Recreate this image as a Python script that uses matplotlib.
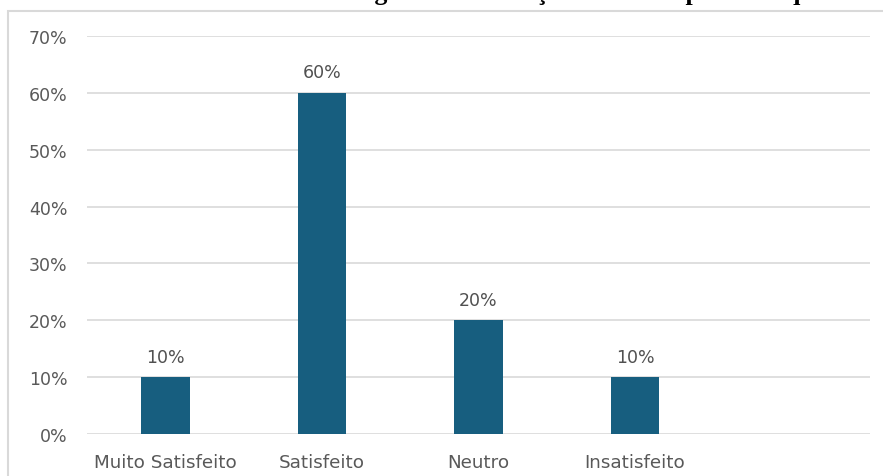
import matplotlib
matplotlib.use("Agg")
import matplotlib.pyplot as plt
from matplotlib.patches import Rectangle
from matplotlib.ticker import PercentFormatter

categorias = ["Muito Satisfeito", "Satisfeito", "Neutro", "Insatisfeito", ""]
percentuais = [0.10, 0.60, 0.20, 0.10, None]
rotulos = ["10%", "60%", "20%", "10%", ""]
titulo = "Gráfico 1 – Como você avalia o seu grau de satisfação com a empresa no qual trabalha"

cor_barra = "#175e7f"
cor_texto = "#595959"
cor_grade = "#d9d9d9"

plt.rcParams["font.family"] = ["DejaVu Sans"]

fig = plt.figure(figsize=(8.83, 4.77), dpi=100)
W, H = 883, 477

# moldura do gráfico (cortada à direita e embaixo)
fig.patches.append(Rectangle((8 / W, -0.1), 1.2, 1 - 12 / H + 0.1,
                             transform=fig.transFigure, fill=False,
                             edgecolor=cor_grade, linewidth=1.5))

# título recortado no topo
fig.text(-20 / W, 1.0, titulo, ha="left", va="baseline",
         fontsize=18.7, fontweight="bold", family="Liberation Serif")

ax = fig.add_axes([87 / W, 1 - 435 / H, 783 / W, (435 - 37) / H])

xs = [i for i, v in enumerate(percentuais) if v is not None]
vals = [v for v in percentuais if v is not None]
barras = ax.bar(xs, vals, width=0.31, color=cor_barra, zorder=3)
for b, r in zip(barras, rotulos):
    ax.text(b.get_x() + b.get_width() / 2, b.get_height() + 0.020, r,
            ha="center", va="bottom", fontsize=12.5, color="#505050")

ax.set_xlim(-0.5, len(categorias) - 0.5)
ax.set_ylim(0, 0.7)
ax.set_yticks([i / 10 for i in range(8)])
ax.yaxis.set_major_formatter(PercentFormatter(1.0, decimals=0))
ax.set_xticks(range(len(categorias)))
ax.set_xticklabels(categorias)

ax.grid(axis="y", color=cor_grade, linewidth=1.2, zorder=0)
for s in ax.spines.values():
    s.set_visible(False)
ax.tick_params(axis="both", length=0, colors=cor_texto, labelsize=12.5)
ax.tick_params(axis="y", pad=14)
ax.tick_params(axis="x", pad=13.5, labelsize=13.2)

fig.savefig("out.png", dpi=100)
